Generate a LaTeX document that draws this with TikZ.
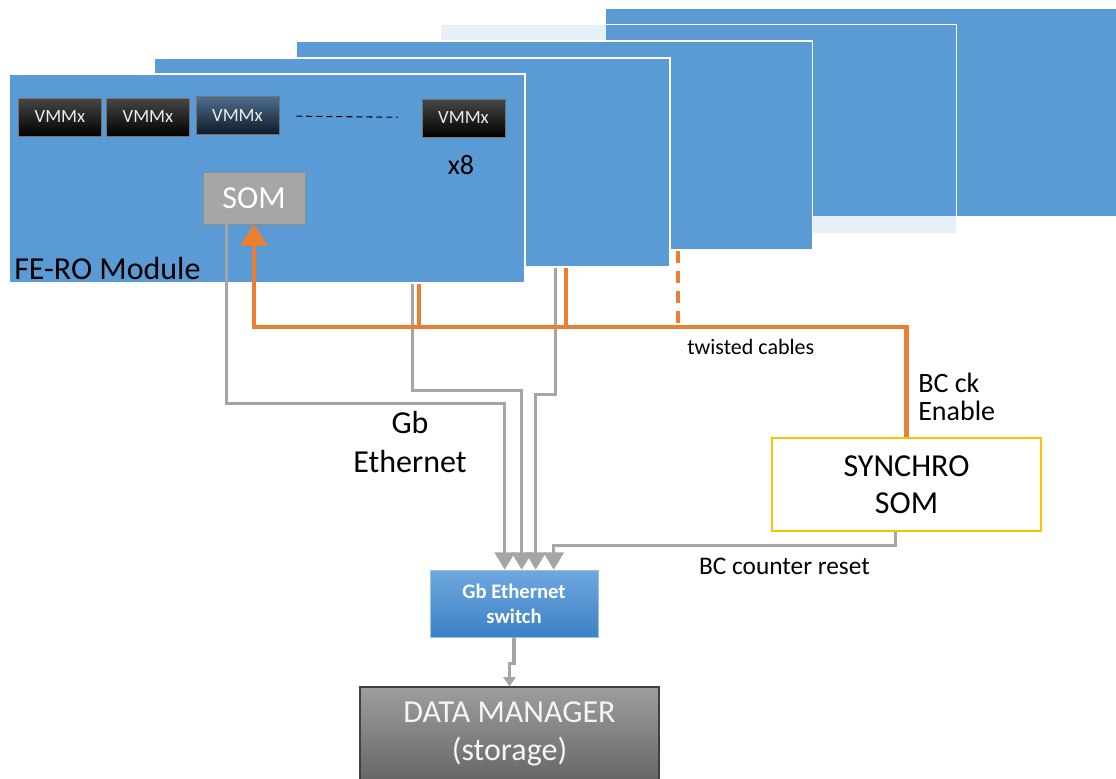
\documentclass[tikz,border=0pt]{standalone}
\usepackage{fontspec}
\setmainfont{Carlito}
\usetikzlibrary{arrows.meta}
\definecolor{panelblue}{HTML}{5B9BD5}
\definecolor{busorange}{HTML}{ED7D31}
\definecolor{linegray}{HTML}{A5A5A5}
\definecolor{somgray}{HTML}{A6A6A6}
\definecolor{syncgold}{HTML}{FFC000}
\definecolor{vmmblue}{HTML}{4E6E8E}
\definecolor{vmmnavy}{HTML}{0E1A28}
\definecolor{swtop}{HTML}{6EA8DE}
\definecolor{swbot}{HTML}{3D80C6}
\definecolor{dmtop}{HTML}{9E9E9E}
\definecolor{dmbot}{HTML}{666666}

\begin{document}
\begin{tikzpicture}[
    x=0.75pt, y=-0.75pt,
    panel/.style={rectangle, draw=white, line width=1pt, fill=panelblue, minimum width=387pt, minimum height=156.75pt, inner sep=0pt},
    vmm/.style={rectangle, draw=black!55, top color=black!72, bottom color=black, text=white!85!gray, minimum width=62.25pt, minimum height=28.5pt, font=\fontsize{14}{16}\selectfont},
    som/.style={rectangle, draw=black!45, fill=somgray, text=white, minimum width=76.5pt, minimum height=39pt, font=\fontsize{24}{28}\selectfont},
    switchbox/.style={rectangle, draw=swtop!70!white, top color=swtop, bottom color=swbot, text=white, align=center, minimum width=126pt, minimum height=50.25pt, font=\fontsize{15.5}{18.75}\selectfont\bfseries},
    dmbox/.style={rectangle, draw=black!75, line width=0.8pt, top color=dmtop, bottom color=dmbot, text=white!92!gray, align=center, minimum width=224.25pt, minimum height=70.5pt, font=\fontsize{24}{28.5}\selectfont},
    syncbox/.style={rectangle, draw=syncgold, line width=0.9pt, fill=white, align=center, minimum width=201.75pt, minimum height=69.75pt, font=\fontsize{24}{28}\selectfont},
    lab/.style={inner sep=0pt, align=center, font=\fontsize{24}{29}\selectfont},
    gline/.style={draw=linegray, line width=2.4pt, -{Triangle[width=15pt,length=13pt]}},
    obus/.style={draw=busorange, line width=3.2pt}
]
    \useasboundingbox (0,0) rectangle (1116,778);

    % FE-RO module panels, back to front
    \node [panel] (p5) at (863,112.5) {};
    \node [panel, fill opacity=0.15] (p4) at (698.5,129) {};
    \node [panel] (p3) at (554.5,145.5) {};
    \node [panel] (p2) at (412,162.5) {};
    \node [panel] (p1) at (267,178.5) {};

    % Front module content
    \node [vmm] (v1) at (60,117) {VMMx};
    \node [vmm] (v2) at (148,117) {VMMx};
    \node [vmm, top color=vmmblue, bottom color=vmmnavy] (v3) at (237.5,115.5) {VMMx};
    \node [vmm] (v8) at (463.5,118) {VMMx};
    \draw [black, line width=0.8pt, dash pattern=on 4.5pt off 3pt, shorten <=12.75pt, shorten >=18pt] (v3) -- (v8);
    \node [lab, font=\fontsize{21}{25}\selectfont] (x8) at (461,165) {x8};
    \node [som] (som) at (254,198) {SOM};
    \node [lab, anchor=west] (fero) at (14,269) {FE-RO Module};

    % Other boxes
    \node [syncbox] (sync) at (906.5,484.5) {SYNCHRO\\SOM};
    \node [switchbox] (sw) at (514,603.5) {Gb Ethernet\\switch};
    \node [dmbox] (dm) at (509.5,734) {DATA MANAGER\\(storage)};

    % Gb Ethernet links
    \draw [gline] (som.south west) ++(24,0) -- ++(0,179) -| ([xshift=56.25pt]sw.north west);
    \draw [gline] (p1.south west) ++(404,0) -- ++(0,107) -| ([xshift=69pt]sw.north west);
    \draw [gline] (p2.south west) ++(402,0) -- ++(0,127) -| ([xshift=79.5pt]sw.north west);
    \draw [gline] (sync.south west) ++(124,0) -- ++(0,14) -| ([xshift=93pt]sw.north west);
    \draw [gline, -{Triangle[width=9pt,length=7pt]}] (sw.south) -- ++(0,26) -| (dm.north);

    % Twisted cables (BC ck, Enable)
    \coordinate (bus) at (0,327);
    \draw [obus, -{Triangle[width=20pt,length=16pt]}] (sync.north) -- (sync.north |- bus) -| (som.south);
    \draw [obus] (p1.south west) ++(411,0) coordinate (d1) -- (d1 |- bus);
    \draw [obus] (p2.south west) ++(413,0) coordinate (d2) -- (d2 |- bus);
    \draw [obus, dash pattern=on 9pt off 6pt] (p3.south west) ++(382,0) coordinate (d3) -- (d3 |- bus);

    % Labels
    \node [lab] (gblab) at (410,442) {Gb\\Ethernet};
    \node [lab, anchor=west, font=\fontsize{16.5}{20}\selectfont] (twlab) at (687,347) {twisted cables};
    \node [lab, anchor=west, align=left, font=\fontsize{21}{21}\selectfont] (bclab) at (918,397) {BC ck\\Enable};
    \node [lab, font=\fontsize{19}{23}\selectfont] (rstlab) at (784.5,566) {BC counter reset};
\end{tikzpicture}
\end{document}
